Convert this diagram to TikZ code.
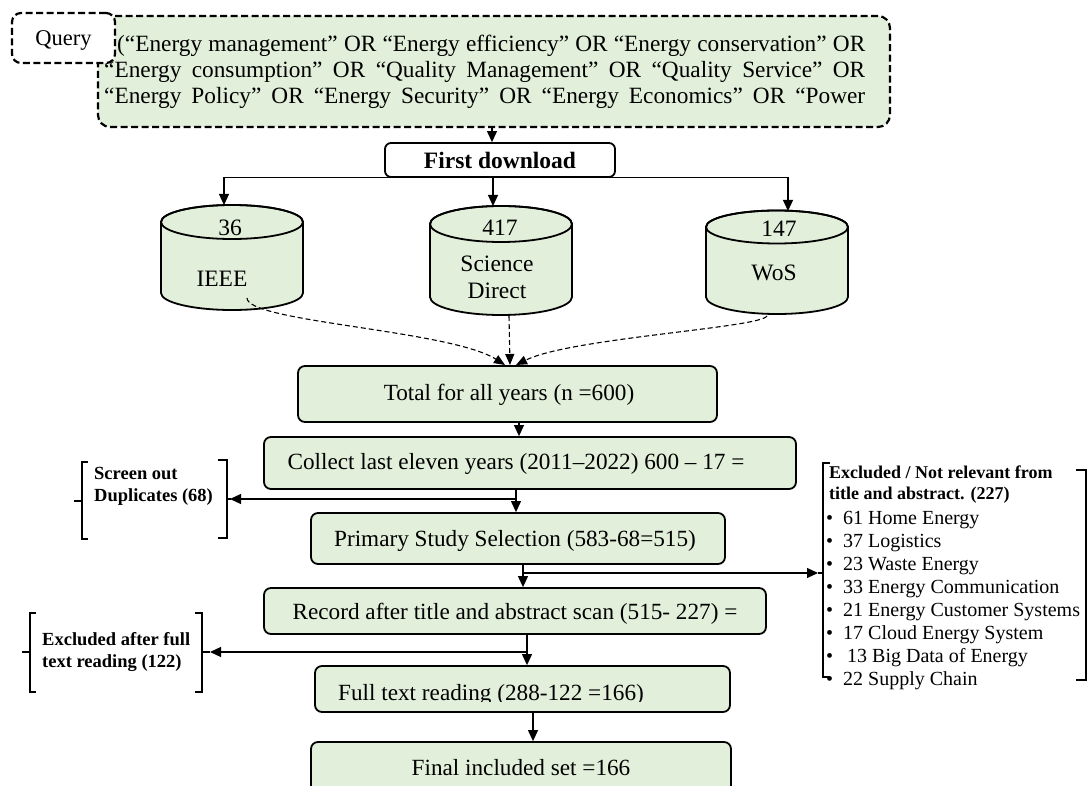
\documentclass[tikz,border=0pt]{standalone}
\usepackage{fontspec}
\setmainfont{Liberation Serif}
\usetikzlibrary{arrows.meta}
\definecolor{boxgreen}{RGB}{226,239,218}
\begin{document}
\begin{tikzpicture}[x=1pt,y=1pt,
  arr/.style={-{Triangle[length=11pt,width=10pt]}, line width=1.1pt},
  darr/.style={-{Triangle[length=11pt,width=9pt]}, line width=1.1pt, dash pattern=on 5pt off 3pt},
  gbox/.style={draw, fill=boxgreen, rounded corners=7pt, line width=1.8pt, inner sep=0pt},
  qdash/.style={draw, dash pattern=on 7pt off 3.5pt, line width=2.2pt, inner sep=0pt},
  maintxt/.style={font=\fontsize{23.2}{26}\selectfont, inner sep=0pt},
  cyltxt/.style={font=\fontsize{23.5}{27}\selectfont, inner sep=0pt},
  brk/.style={line width=1.5pt},
  cylline/.style={line width=1.8pt},
]
\useasboundingbox (0,0) rectangle (1088,-786);
\clip (0,0) rectangle (1088,-786);

% ---- query
\node[qdash, fill=boxgreen, rounded corners=12pt, minimum width=792pt, minimum height=111pt] (qbox) at (494,-71.5) {};
\node[anchor=west, align=left, inner sep=0pt, font=\fontsize{23.3}{26}\selectfont] (qtext) at (104,-72) {%
\hspace*{13pt}\makebox[748pt][s]{(“Energy management” OR “Energy efficiency” OR “Energy conservation” OR}\\
\makebox[761pt][s]{“Energy consumption” OR “Quality Management” OR “Quality Service” OR}\\
\makebox[761pt][s]{“Energy Policy” OR “Energy Security” OR “Energy Economics” OR “Power}};
\node[qdash, fill=white, rounded corners=9pt, minimum width=103pt, minimum height=50pt, text depth=0pt, font=\fontsize{22.5}{25}\selectfont] (query) at (63.5,-38) {Query};

% ---- first download
\node[draw, fill=white, rounded corners=6pt, line width=1.8pt, minimum width=230pt, minimum height=34pt, inner sep=0pt, font=\bfseries\fontsize{23.5}{25}\selectfont] (fd) at (500,-160) {First download};
\coordinate (qx) at (492,0);
\draw[arr] (qbox.south -| qx) -- (fd.north -| qx);

% ---- cylinders
% IEEE
\filldraw[fill=boxgreen, cylline] (161,-222) -- (161,-293) arc[start angle=180,end angle=360,x radius=71,y radius=17] -- (303,-222) arc[start angle=0,end angle=180,x radius=71,y radius=17] -- cycle;
\draw[cylline] (232,-222) ellipse[x radius=71, y radius=17];
% Science Direct
\filldraw[fill=boxgreen, cylline] (430,-224) -- (430,-297) arc[start angle=180,end angle=360,x radius=71,y radius=18] -- (572,-224) arc[start angle=0,end angle=180,x radius=71,y radius=18] -- cycle;
\draw[cylline] (501,-224) ellipse[x radius=71, y radius=18];
% WoS
\filldraw[fill=boxgreen, cylline] (706,-227) -- (706,-297) arc[start angle=180,end angle=360,x radius=71,y radius=17] -- (848,-227) arc[start angle=0,end angle=180,x radius=71,y radius=16.5] -- cycle;
\draw[cylline] (777,-227) ellipse[x radius=71, y radius=16.5];

\coordinate (ieeetop) at (224,-205);
\coordinate (sdtop) at (493,-206);
\coordinate (wostop) at (788,-211);
\coordinate (ieeebot) at (247,-298);
\coordinate (sdbot) at (509,-316);
\coordinate (wosbot) at (767,-316);

\node[cyltxt] (ieeen) at (230,-228) {36};
\node[cyltxt] (ieeel) at (222,-279) {IEEE};
\node[cyltxt] (sdn) at (500,-228) {417};
\node[cyltxt, align=center] (sdl) at (497,-277) {Science\\Direct};
\node[cyltxt] (wosn) at (779,-229) {147};
\node[cyltxt] (wosl) at (774,-273) {WoS};

\draw[arr] (fd.south) -| (ieeetop);
\draw[arr] (fd.south -| sdtop) -- (sdtop);
\draw[arr] (fd.south) -| (wostop);

% ---- main boxes
\node[gbox, minimum width=419pt, minimum height=56pt] (total) at (507.5,-394) {};
\node[gbox, minimum width=532pt, minimum height=52pt] (coll) at (530,-463) {};
\node[gbox, minimum width=414pt, minimum height=51pt] (prim) at (518,-538.5) {};
\node[gbox, minimum width=502pt, minimum height=46pt] (rec) at (515,-611) {};
\node[gbox, minimum width=415pt, minimum height=46pt] (full) at (522.5,-689) {};
\node[gbox, minimum width=420pt, minimum height=60pt] (final) at (521,-772) {};

\node[maintxt] (totalt) at (509,-395) {Total for all years (n =600)};
\node[maintxt] (collt) at (516,-464) {Collect last eleven years (2011–2022) 600 – 17 =};
\node[maintxt] (primt) at (515,-541) {Primary Study Selection (583-68=515)};
\node[maintxt] (rect) at (515,-614) {Record after title and abstract scan (515- 227) =};
\begin{scope}
\clip (300,-660) rectangle (720,-701);
\node[maintxt, anchor=base] (fullt) at (491,-700.5) {Full text reading (288-122 =166)};
\end{scope}
\node[maintxt] (finalt) at (521,-768) {Final included set =166};

% ---- dashed merges
\coordinate (t1) at (505,-365);
\coordinate (t2) at (510,-365);
\coordinate (t3) at (516,-365);
\draw[darr] (ieeebot) .. controls (247,-322) and (450,-330) .. (t1);
\draw[darr] (sdbot) -- (t2);
\draw[darr] (wosbot) .. controls (760,-328) and (570,-338) .. (t3);

% ---- flow arrows
\coordinate (j0) at (519,0);
\coordinate (j1) at (516,-499);
\coordinate (j2) at (523,-573);
\coordinate (j3) at (527,-652);
\coordinate (j4) at (533,0);
\coordinate (dupbr) at (230,-499);
\coordinate (excbr) at (818,-573);
\coordinate (ftbr) at (210,-652);

\draw[arr] (total.south -| j0) -- (coll.north -| j0);
\draw[arr] (coll.south -| j1) -- (prim.north -| j1);
\draw[arr] (j1) -- (dupbr);
\draw[arr] (prim.south -| j2) -- (rec.north -| j2);
\draw[arr] (j2) -- (excbr);
\draw[arr] (rec.south -| j3) -- (full.north -| j3);
\draw[arr] (j3) -- (ftbr);
\draw[arr] (full.south -| j4) -- (final.north -| j4);

% ---- brackets
\draw[brk] (88,-462) -- (82,-462) -- (82,-539) -- (88,-539);
\draw[brk] (82,-501) -- (74,-501);
\draw[brk] (218,-460) -- (227,-460) -- (227,-538) -- (218,-538);
\draw[brk] (227,-499) -- (231,-499);

\draw[brk] (36,-613) -- (30,-613) -- (30,-692) -- (36,-692);
\draw[brk] (30,-652) -- (22,-652);
\draw[brk] (195,-613) -- (202,-613) -- (202,-692) -- (195,-692);
\draw[brk] (202,-652) -- (210,-652);

\draw[brk] (830,-463) -- (823,-463) -- (823,-677) -- (829,-677);
\draw[brk] (818,-573) -- (823,-573);
\draw[brk] (1076,-470) -- (1086,-470) -- (1086,-680) -- (1076,-680);

% ---- bracket texts
\node[anchor=west, align=left, inner sep=0pt, font=\bfseries\fontsize{18.5}{22}\selectfont] (duptxt) at (94,-486) {Screen out\\Duplicates (68)};
\node[anchor=west, align=left, inner sep=0pt, font=\bfseries\fontsize{18.5}{22}\selectfont] (fttxt) at (42,-652) {Excluded after full\\text reading (122)};
\node[anchor=north west, align=left, inner sep=0pt, font=\bfseries\fontsize{18}{21}\selectfont] (exct) at (829,-466) {Excluded / Not relevant from\\title and abstract. (227)};
\node[anchor=north west, align=left, inner sep=0pt, font=\fontsize{20}{23}\selectfont] (excl) at (826,-511.5) {%
\makebox[17pt][l]{•}61 Home Energy\\
\makebox[17pt][l]{•}37 Logistics\\
\makebox[17pt][l]{•}23 Waste Energy\\
\makebox[17pt][l]{•}33 Energy Communication\\
\makebox[17pt][l]{•}21 Energy Customer Systems\\
\makebox[17pt][l]{•}17 Cloud Energy System\\
\makebox[17pt][l]{•}\hspace*{4pt}13 Big Data of Energy\\
\makebox[17pt][l]{•}22 Supply Chain};
\end{tikzpicture}
\end{document}
